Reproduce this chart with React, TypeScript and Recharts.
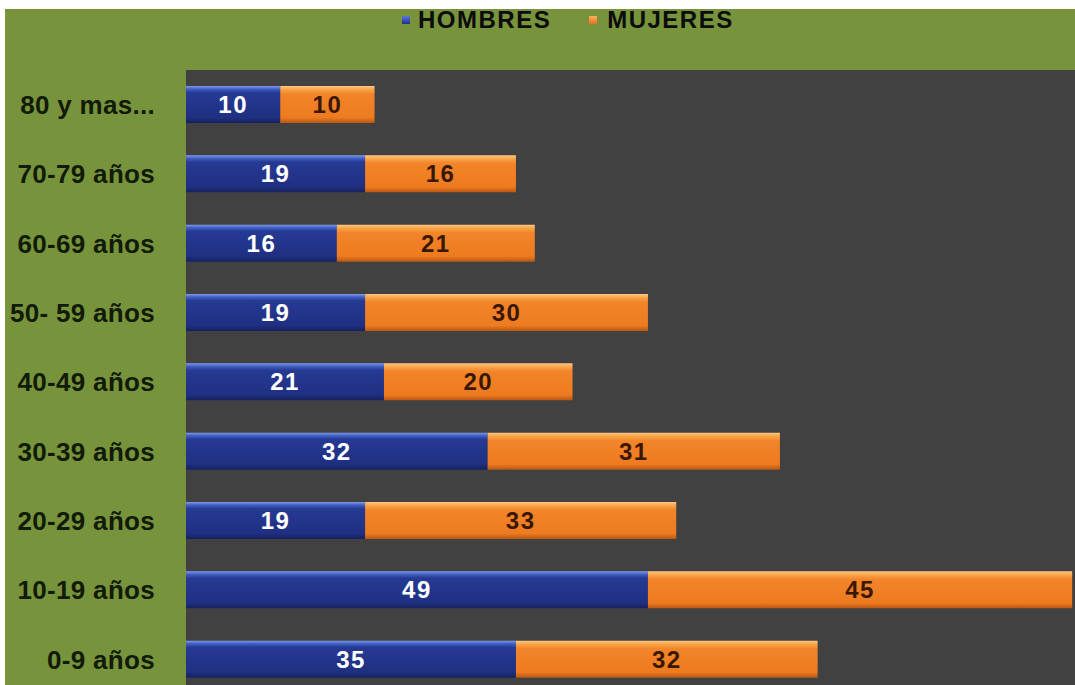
import React from 'react';
import { BarChart, Bar, XAxis, YAxis, CartesianGrid, LabelList } from 'recharts';

const categories = ['80 y mas...', '70-79 años', '60-69 años', '50- 59 años', '40-49 años', '30-39 años', '20-29 años', '10-19 años', '0-9 años'];
const hombres = [10, 19, 16, 19, 21, 32, 19, 49, 35];
const mujeres = [10, 16, 21, 30, 20, 31, 33, 45, 32];
const seriesNames = ['HOMBRES', 'MUJERES'];

const data = categories.map((c, i) => ({ cat: c, hombres: hombres[i], mujeres: mujeres[i] }));

const FONT = '"Liberation Sans", Arial, sans-serif';

const legendText: React.CSSProperties = { fontSize: 24, fontWeight: 900, color: '#0c0c0c', letterSpacing: 1.5, fontFamily: FONT };

export default function App() {
  return (
    <div style={{ position: 'absolute', left: 0, top: 0, width: 1075, height: 685, background: '#fff', overflow: 'hidden' }}>
      <div style={{ position: 'absolute', left: 5, top: 9, width: 1070, height: 676, background: '#77933C', overflow: 'hidden' }}>
        <BarChart
          width={1070}
          height={700}
          data={data}
          layout="vertical"
          margin={{ top: 61, right: 0, bottom: 15, left: 0 }}
          barSize={37}
        >
          <defs>
            <linearGradient id="gBlue" x1="0" y1="0" x2="0" y2="1">
              <stop offset="0%" stopColor="#7c9cf0" />
              <stop offset="8%" stopColor="#4460c4" />
              <stop offset="18%" stopColor="#263a94" />
              <stop offset="85%" stopColor="#1f3082" />
              <stop offset="100%" stopColor="#16215c" />
            </linearGradient>
            <linearGradient id="gOrange" x1="0" y1="0" x2="0" y2="1">
              <stop offset="0%" stopColor="#ffc880" />
              <stop offset="10%" stopColor="#f9a448" />
              <stop offset="22%" stopColor="#f2842a" />
              <stop offset="85%" stopColor="#ee7b20" />
              <stop offset="100%" stopColor="#b85812" />
            </linearGradient>
          </defs>
          <CartesianGrid fill="#414141" stroke="none" horizontal={false} vertical={false} />
          <XAxis type="number" hide domain={[0, 94.3]} />
          <YAxis
            type="category"
            dataKey="cat"
            width={181}
            axisLine={false}
            tickLine={false}
            tickSize={0}
            tickMargin={31}
            interval={0}
            tick={{ fill: '#121a08', fontSize: 26, fontWeight: 'bold', fontFamily: FONT, letterSpacing: 0.3 }}
          />
          <Bar dataKey="hombres" stackId="a" fill="url(#gBlue)" isAnimationActive={false} name={seriesNames[0]}>
            <LabelList dataKey="hombres" position="center" fill="#ffffff" fontSize={24} fontWeight="bold" fontFamily={FONT} letterSpacing={1.5} />
          </Bar>
          <Bar dataKey="mujeres" stackId="a" fill="url(#gOrange)" isAnimationActive={false} name={seriesNames[1]}>
            <LabelList dataKey="mujeres" position="center" fill="#3a1800" fontSize={24} fontWeight="bold" fontFamily={FONT} letterSpacing={1.5} />
          </Bar>
        </BarChart>
      </div>
      <div style={{ position: 'absolute', left: 402, top: 6, display: 'flex', alignItems: 'center', whiteSpace: 'nowrap' }}>
        <span style={{ width: 8, height: 8, background: 'linear-gradient(#5a78e0,#1f2f86)', display: 'inline-block', marginRight: 8 }} />
        <span style={legendText}>{seriesNames[0]}</span>
        <span style={{ width: 8, height: 8, background: 'linear-gradient(#ffb060,#e8701a)', display: 'inline-block', marginLeft: 38, marginRight: 10 }} />
        <span style={legendText}>{seriesNames[1]}</span>
      </div>
    </div>
  );
}
